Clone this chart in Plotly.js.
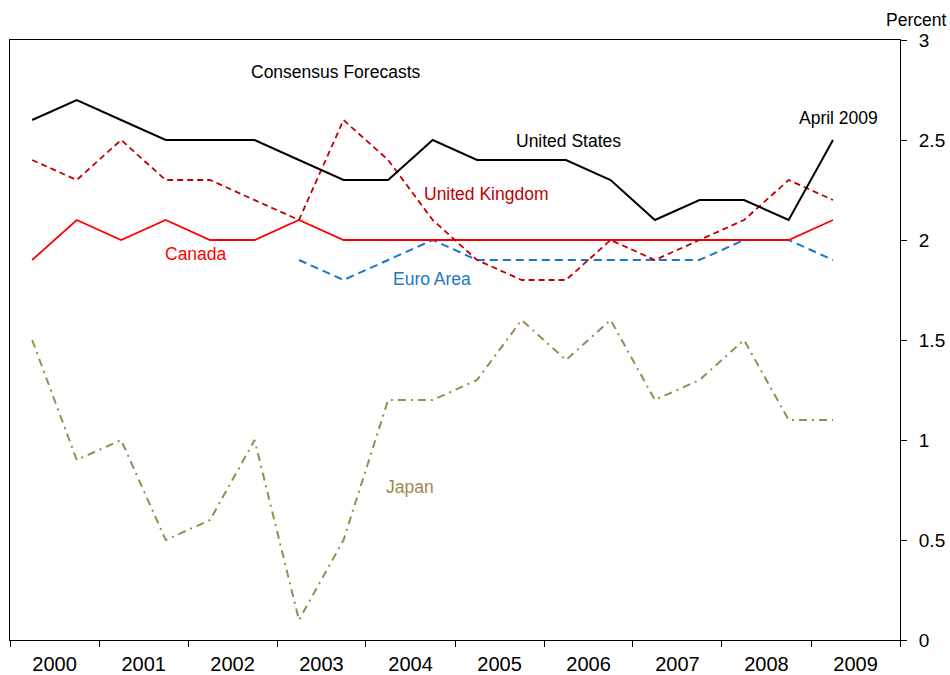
<!DOCTYPE html>
<html><head><meta charset="utf-8">
<script src="https://cdn.plot.ly/plotly-3.0.1.min.js"></script>
<style>html,body{margin:0;padding:0;background:#fff}</style>
</head><body>
<div id="chart" style="width:950px;height:675px"></div>
<script>
// Survey dates (April and October of each year)
const surveyDates = ["2000-04-01","2000-10-01","2001-04-01","2001-10-01","2002-04-01","2002-10-01",
  "2003-04-01","2003-10-01","2004-04-01","2004-10-01","2005-04-01","2005-10-01","2006-04-01","2006-10-01",
  "2007-04-01","2007-10-01","2008-04-01","2008-10-01","2009-04-01"];
const unitedStates  = [2.6,2.7,2.6,2.5,2.5,2.5,2.4,2.3,2.3,2.5,2.4,2.4,2.4,2.3,2.1,2.2,2.2,2.1,2.5];
const unitedKingdom = [2.4,2.3,2.5,2.3,2.3,2.2,2.1,2.6,2.4,2.1,1.9,1.8,1.8,2.0,1.9,2.0,2.1,2.3,2.2];
const canada        = [1.9,2.1,2.0,2.1,2.0,2.0,2.1,2.0,2.0,2.0,2.0,2.0,2.0,2.0,2.0,2.0,2.0,2.0,2.1];
const euroArea      = [null,null,null,null,null,null,1.9,1.8,1.9,2.0,1.9,1.9,1.9,1.9,1.9,1.9,2.0,2.0,1.9];
const japan         = [1.5,0.9,1.0,0.5,0.6,1.0,0.1,0.5,1.2,1.2,1.3,1.6,1.4,1.6,1.2,1.3,1.5,1.1,1.1];

const FONT = "Liberation Sans, Arial, sans-serif";
const traces = [
  {x: surveyDates, y: japan, mode: "lines", line: {color: "#9a8a4f", width: 2, dash: "8px,5px,2px,5px"}},
  {x: surveyDates, y: euroArea, mode: "lines", line: {color: "#1877c9", width: 2, dash: "8px,5px"}},
  {x: surveyDates, y: canada, mode: "lines", line: {color: "#ff0000", width: 1.8}},
  {x: surveyDates, y: unitedKingdom, mode: "lines", line: {color: "#c00000", width: 1.8, dash: "6px,4px"}},
  {x: surveyDates, y: unitedStates, mode: "lines", line: {color: "#000000", width: 2}}
];
const P = (px) => (px - 10) / 890;
const Q = (py) => (640 - py) / 600;
const ann = (text, px, py, color) => ({text, x: P(px), y: Q(py), xref: "paper", yref: "paper",
  showarrow: false, xanchor: "center", yanchor: "middle", font: {family: FONT, size: 17.5, color}});
const layout = {
  width: 950, height: 675,
  margin: {l: 10, r: 50, t: 40, b: 35},
  paper_bgcolor: "#fff", plot_bgcolor: "#fff",
  showlegend: false,
  font: {family: FONT, size: 17, color: "#000"},
  xaxis: {type: "date", range: ["2000-01-01", "2010-01-01"], dtick: "M12", tick0: "2000-01-01",
    ticklabelmode: "period", tickformat: "%Y", showgrid: false, zeroline: false,
    showline: true, linecolor: "#000", linewidth: 1, mirror: true,
    ticks: "outside", ticklen: 6, tickcolor: "#000", tickfont: {family: FONT, size: 20}},
  yaxis: {side: "right", range: [0, 3], dtick: 0.5, tick0: 0, showgrid: false, zeroline: false,
    showline: true, linecolor: "#000", linewidth: 1, mirror: true, ticklabelstandoff: 8,
    ticks: "outside", ticklen: 6, tickcolor: "#000", tickfont: {family: FONT, size: 19}},
  annotations: [
    ann("Consensus Forecasts", 335, 72, "#000"),
    ann("United States", 568, 141, "#000"),
    ann("United Kingdom", 487, 194, "#c00000"),
    ann("Canada", 196, 254, "#ff0000"),
    ann("Euro Area", 432, 279, "#1877c9"),
    ann("Japan", 410, 487, "#9a8a4f"),
    ann("April 2009", 838, 118, "#000"),
    {text: "Percent", x: P(916), y: Q(20), xref: "paper", yref: "paper", showarrow: false,
     xanchor: "center", yanchor: "middle", font: {family: FONT, size: 17.5, color: "#000"}}
  ]
};
Plotly.newPlot("chart", traces, layout, {staticPlot: true, displayModeBar: false});
</script>
</body></html>
